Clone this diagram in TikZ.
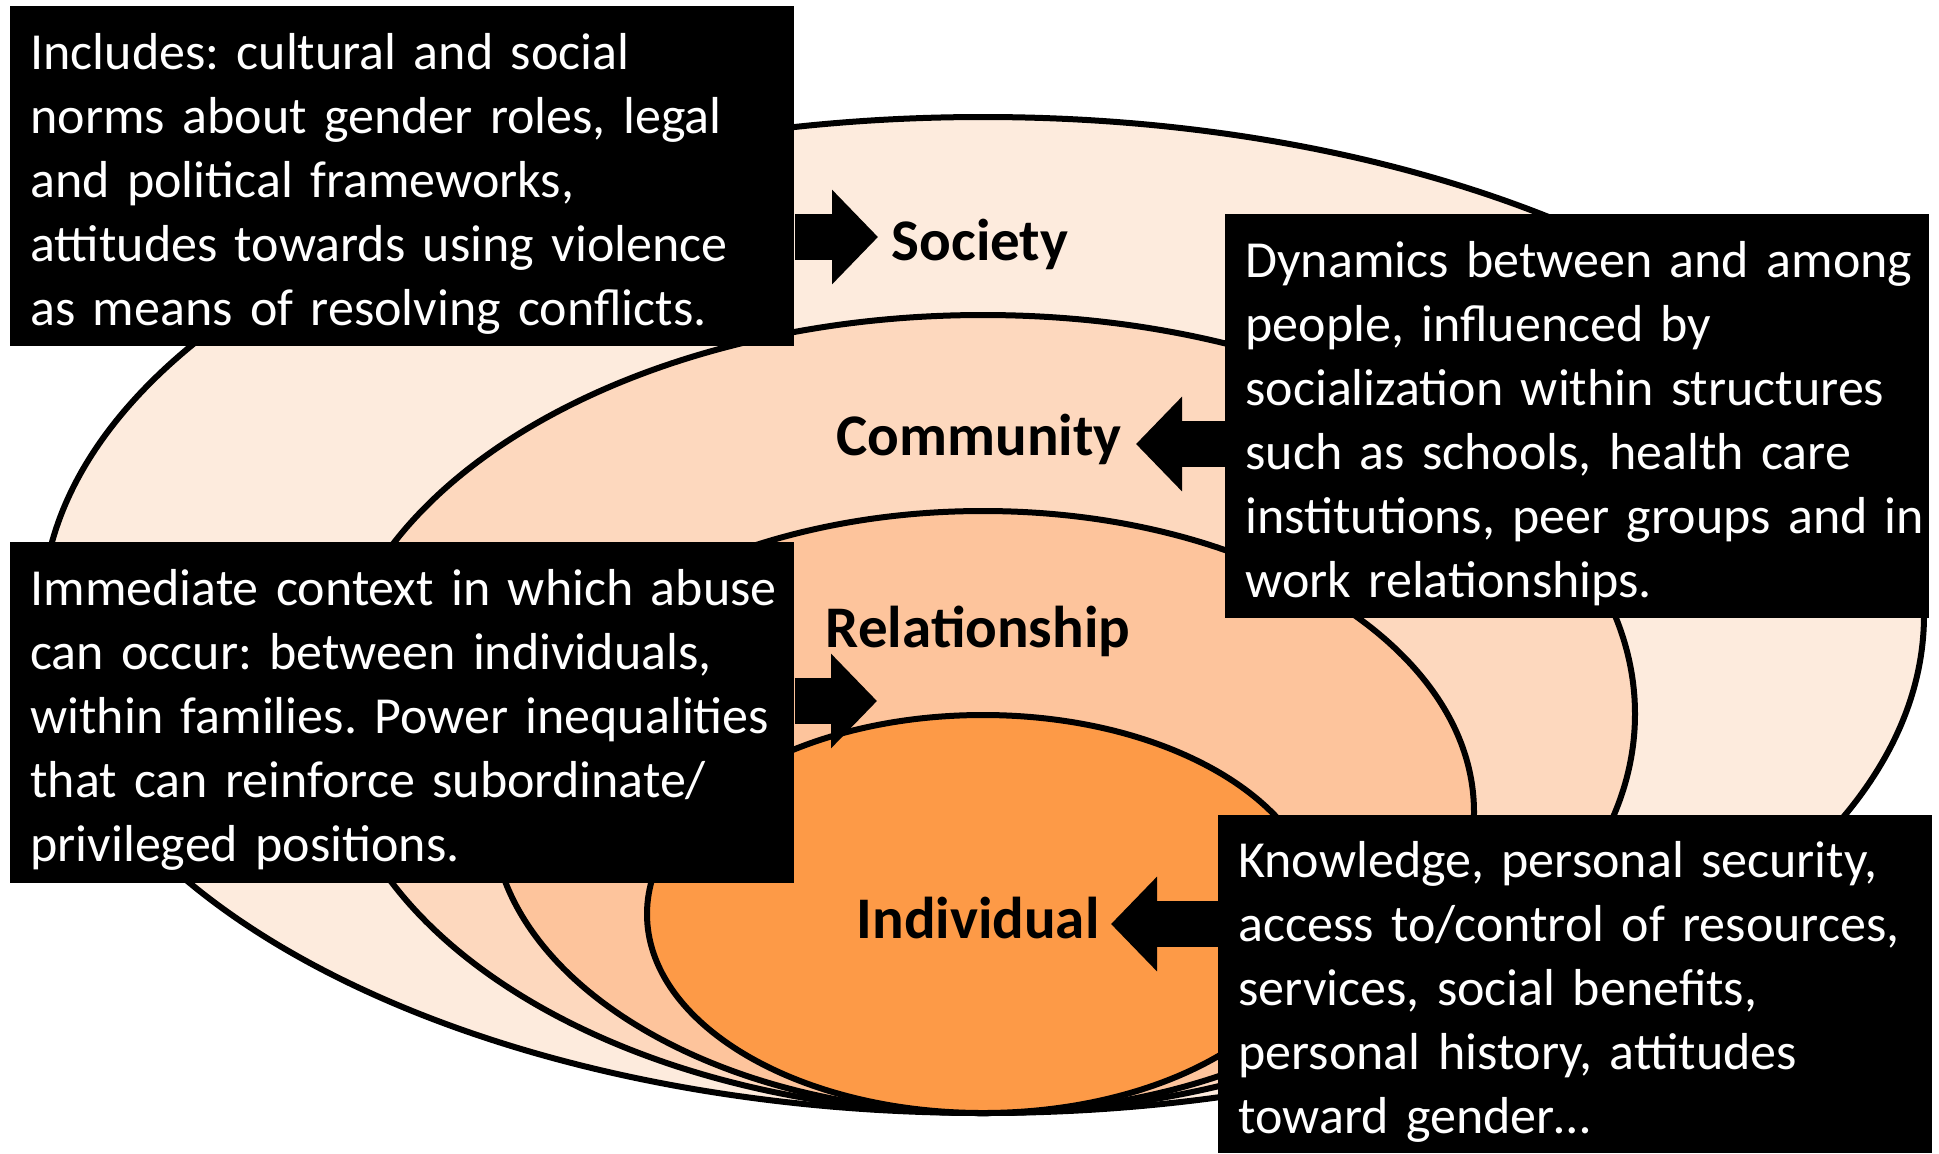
\documentclass[tikz,border=0pt]{standalone}
\usepackage{fontspec}
\setmainfont{Carlito}
\frenchspacing
\usetikzlibrary{arrows.meta}
\definecolor{societyfill}{HTML}{FDEBDD}
\definecolor{communityfill}{HTML}{FDD8BE}
\definecolor{relationfill}{HTML}{FDC49C}
\definecolor{individualfill}{HTML}{FD9A47}
\tikzset{
  ring/.style={draw=black, line width=3pt},
  infobox/.style={fill=black, text=white, anchor=north west, align=left,
    inner xsep=2pt, inner ysep=0pt, text height=25.5pt,
    font=\fontsize{26}{32}\selectfont, execute at begin node={\leftskip=8pt}},
  level/.style={font=\fontsize{29.5}{34}\selectfont\bfseries, inner sep=0pt},
  bigarrow/.style={line width=23pt, -{Triangle[length=23pt,width=46pt]}}
}
\begin{document}
\begin{tikzpicture}[x=0.5pt,y=-0.5pt]
\useasboundingbox (0,0) rectangle (1939,1153);
% nested rings, outermost first
\draw[ring, fill=societyfill] (983,615) ellipse [x radius=941, y radius=498];
\draw[ring, fill=communityfill] (983,714) ellipse [x radius=652, y radius=399];
\draw[ring, fill=relationfill] (983,812) ellipse [x radius=491, y radius=301];
\draw[ring, fill=individualfill] (983,914) ellipse [x radius=336, y radius=199];
% level names
\node[level] (society) at (980,244) {Society};
\node[level] (community) at (979,439) {Community};
\node[level] (relationship) at (978,631) {Relationship};
\node[level] (individual) at (978,918) {Individual};
% explanation boxes
\node[infobox, text width=388pt, minimum height=170pt] (society info) at (10,6)
  {Includes: cultural and social\\
   norms about gender roles, legal\\
   and political frameworks,\\
   attitudes towards using violence\\
   as means of resolving conflicts.};
\node[infobox, text width=348pt, minimum height=202pt] (community info) at (1225,214)
  {Dynamics between and among\\
   people, influenced by\\
   socialization within structures\\
   such as schools, health care\\
   institutions, peer groups and in\\
   work relationships.};
\node[infobox, text width=388pt, minimum height=170.5pt] (relationship info) at (10,542)
  {Immediate context in which abuse\\
   can occur: between individuals,\\
   within families. Power inequalities\\
   that can reinforce subordinate/\\
   privileged positions.};
\node[infobox, text width=353pt, minimum height=169pt] (individual info) at (1218,815)
  {Knowledge, personal security,\\
   access to/control of resources,\\
   services, social benefits,\\
   personal history, attitudes\\
   toward gender…};
% arrows from boxes to levels
\coordinate (society tip) at (878,237);
\coordinate (community tip) at (1136,444);
\coordinate (relationship tip) at (877,701);
\coordinate (individual tip) at (1111,924);
\draw[bigarrow] (society info.east |- society tip) -- (society tip);
\draw[bigarrow] (community info.west |- community tip) -- (community tip);
\draw[bigarrow] (relationship info.east |- relationship tip) -- (relationship tip);
\draw[bigarrow] (individual info.west |- individual tip) -- (individual tip);
\end{tikzpicture}
\end{document}
